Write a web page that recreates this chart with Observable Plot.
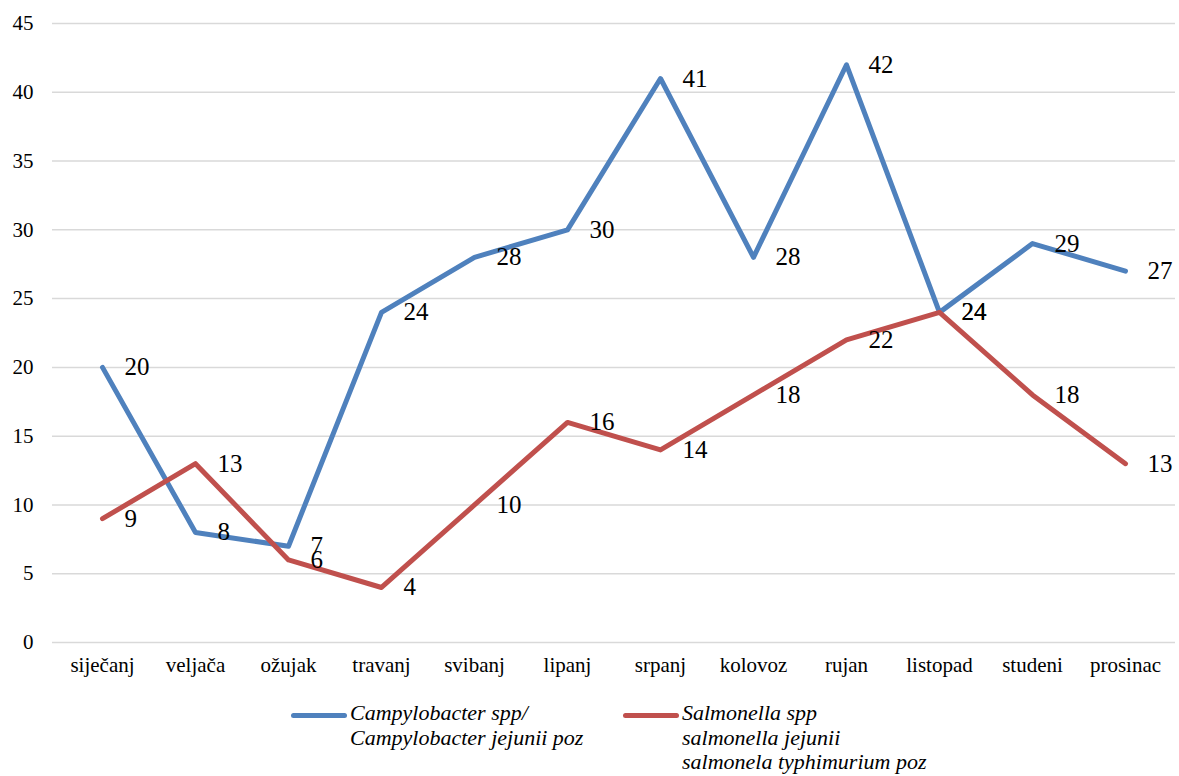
<!DOCTYPE html>
<html>
<head>
<meta charset="utf-8">
<script src="https://cdn.jsdelivr.net/npm/d3@7"></script>
<script src="https://cdn.jsdelivr.net/npm/@observablehq/plot@0.6"></script>
<style>
  body { margin: 0; background: #fff; font-family: 'Liberation Serif', serif; }
  #wrap { position: relative; width: 1179px; height: 776px; font-family: 'Liberation Serif', serif; }
  .legend { position: absolute; top: 701px; font-style: italic; font-size: 22px; line-height: 24.5px; color: #000; font-family: 'Liberation Serif', serif; }
  .legend .sw { position: absolute; left: 0; top: 12px; width: 56px; height: 5px; border-radius: 3px; }
  .legend .txt { position: absolute; white-space: nowrap; left: 59px; top: 0; }
</style>
</head>
<body>
<div id="wrap"></div>
<script>
const months = ["siječanj","veljača","ožujak","travanj","svibanj","lipanj","srpanj","kolovoz","rujan","listopad","studeni","prosinac"];
const campylobacter = [20,8,7,24,28,30,41,28,42,24,29,27];
const salmonella = [9,13,6,4,10,16,14,18,22,24,18,13];
const yTicks = [0,5,10,15,20,25,30,35,40,45];
const seriesNames = ["Campylobacter spp/\nCampylobacter jejunii poz", "Salmonella spp\nsalmonella jejunii\nsalmonela typhimurium poz"];
const colors = ["#4f81bd", "#c0504d"];

const campData = months.map((m, i) => ({month: m, value: campylobacter[i]}));
const salmData = months.map((m, i) => ({month: m, value: salmonella[i]}));

const font = "Liberation Serif";

const chart = Plot.plot({
  width: 1179,
  height: 695,
  marginLeft: 52,
  marginRight: 4,
  marginTop: 23,
  marginBottom: 53,
  style: {fontFamily: font, fontSize: "21px", color: "#000", background: "#fff"},
  x: {type: "point", domain: months, padding: 0.5, label: null},
  y: {domain: [0, 45], ticks: yTicks, label: null},
  marks: [
    Plot.gridY(yTicks, {stroke: "#d9d9d9", strokeOpacity: 1, strokeWidth: 1.5}),
    Plot.axisY(yTicks, {tickSize: 0, tickPadding: 19, fontSize: 21, fontFamily: font, label: null}),
    Plot.axisX({tickSize: 0, tickPadding: 15, fontSize: 21, fontFamily: font, label: null}),
    Plot.line(campData, {x: "month", y: "value", stroke: colors[0], strokeWidth: 5, strokeLinejoin: "round", strokeLinecap: "round"}),
    Plot.line(salmData, {x: "month", y: "value", stroke: colors[1], strokeWidth: 5, strokeLinejoin: "round", strokeLinecap: "round"}),
    Plot.text(campData, {x: "month", y: "value", text: "value", dx: 22, textAnchor: "start", fontSize: 25, fontFamily: font, fill: "#000"}),
    Plot.text(salmData, {x: "month", y: "value", text: "value", dx: 22, textAnchor: "start", fontSize: 25, fontFamily: font, fill: "#000"})
  ]
});
const wrap = document.getElementById("wrap");
wrap.appendChild(chart);

const legendX = [291, 623];
seriesNames.forEach((name, i) => {
  const item = document.createElement("div");
  item.className = "legend";
  item.style.left = legendX[i] + "px";
  const sw = document.createElement("div");
  sw.className = "sw";
  sw.style.background = colors[i];
  const txt = document.createElement("div");
  txt.className = "txt";
  txt.innerHTML = name.split("\n").join("<br>");
  item.appendChild(sw);
  item.appendChild(txt);
  wrap.appendChild(item);
});
</script>
</body>
</html>
